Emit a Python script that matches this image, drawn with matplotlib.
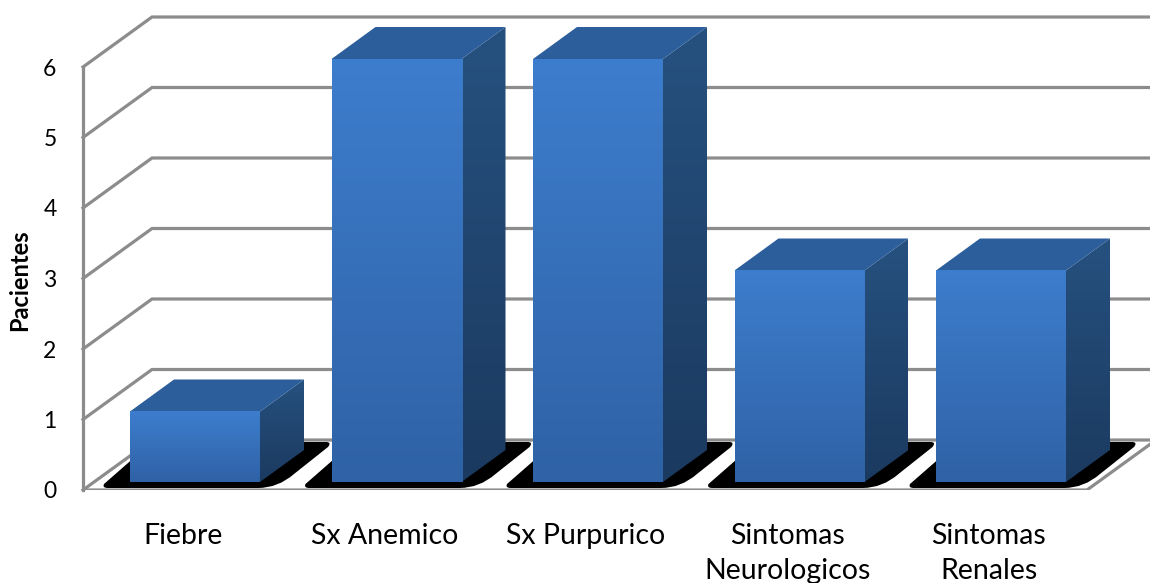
import numpy as np
import matplotlib
matplotlib.use('Agg')
import matplotlib.pyplot as plt
from matplotlib.colors import LinearSegmentedColormap
from matplotlib.patches import PathPatch, Polygon
from matplotlib.path import Path

categories = ['Fiebre', 'Sx Anemico', 'Sx Purpurico', 'Sintomas\nNeurologicos', 'Sintomas\nRenales']
values = [1, 6, 6, 3, 3]
y_ticks = [0, 1, 2, 3, 4, 5, 6]

W, H = 1150, 583
LEFT, FLOOR, TOP6 = 83, 490, 67  # wall position in pixels
UX = 201.5                       # pixels per category
UY = (FLOOR - TOP6) / 6          # pixels per unit
X0 = 195                         # centre of first bar

# depth offsets in data units
wall_dx, wall_dy = 69 / UX, 50 / UY
bar_dx, bar_dy = 44 / UX, 32 / UY
bar_lift = 8 / UY
bar_w = 130 / UX
label_shift = 12 / UX

GRID = '#8c8c8c'

plt.rcParams['font.family'] = ['Lato', 'DejaVu Sans']
fig = plt.figure(figsize=(W / 100, H / 100), dpi=100)
ax = fig.add_axes([LEFT / W, (H - FLOOR) / H, (W - LEFT) / W, FLOOR / H])
ax.set_facecolor('none')
xmin = (LEFT - X0) / UX
xmax = (W - X0) / UX
ymax = FLOOR / UY

front_cmap = LinearSegmentedColormap.from_list('front', ['#2f62a6', '#3d7dcd'])
side_cmap = LinearSegmentedColormap.from_list('side', ['#1b3a60', '#26517f'])

# back wall and side wall grid
for t in y_ticks:
    ax.plot([xmin, xmin + wall_dx, xmax], [t, t + wall_dy, t + wall_dy],
            color=GRID, lw=2.3, solid_joinstyle='miter', zorder=1, clip_on=False)
# floor edge on the right
right_x = (1087 - X0) / UX
ax.plot([xmin, right_x, right_x + wall_dx], [0, 0, wall_dy], color=GRID, lw=2.3, zorder=1)

x = np.arange(len(categories))
bars = ax.bar(x, values, width=bar_w, bottom=bar_lift, color='none', zorder=5)
grad = np.linspace(0, 1, 256).reshape(-1, 1)

for b, v in zip(bars, values):
    l, r = b.get_x(), b.get_x() + b.get_width()
    base, top = b.get_y(), b.get_y() + b.get_height()

    # black floor shadow with rounded corners
    sx = 1 / UX
    sy = 1 / UY
    verts = [
        (l - 22 * sx, base - 6 * sy), (l - 28 * sx, base - 6 * sy), (l - 26 * sx, base - 2 * sy),
        (l + 6 * sx, base + 26 * sy),
        (r + 44 * sx, base + 40 * sy),
        (r + 66 * sx, base + 40 * sy), (r + 72 * sx, base + 40 * sy), (r + 68 * sx, base + 35 * sy),
        (r + 34 * sx, base + 8 * sy), (r + 18 * sx, base - 6 * sy), (r - 2 * sx, base - 6 * sy),
        (l - 22 * sx, base - 6 * sy),
    ]
    codes = [Path.MOVETO, Path.CURVE3, Path.CURVE3, Path.LINETO, Path.LINETO, Path.LINETO,
             Path.CURVE3, Path.CURVE3, Path.LINETO, Path.CURVE3, Path.CURVE3, Path.CLOSEPOLY]
    ax.add_patch(PathPatch(Path(verts, codes), fc='black', ec='none', zorder=2))

    # front face
    ax.imshow(grad, extent=[l, r, base, top], origin='lower', aspect='auto',
              cmap=front_cmap, zorder=5)
    # side face
    side = Polygon([(r, base), (r + bar_dx, base + bar_dy), (r + bar_dx, top + bar_dy), (r, top)],
                   fc='none', ec='none', zorder=4)
    ax.add_patch(side)
    im = ax.imshow(grad, extent=[r, r + bar_dx, base, top + bar_dy], origin='lower', aspect='auto',
                   cmap=side_cmap, zorder=4)
    im.set_clip_path(side)
    # top face
    ax.add_patch(Polygon([(l, top), (l + bar_dx, top + bar_dy), (r + bar_dx, top + bar_dy), (r, top)],
                         fc='#2c5e9b', ec='none', zorder=4))

ax.set_xlim(xmin, xmax)
ax.set_ylim(0, ymax)
for s in ['top', 'right', 'bottom']:
    ax.spines[s].set_visible(False)
ax.spines['left'].set_color(GRID)
ax.spines['left'].set_linewidth(2.3)
ax.spines['left'].set_bounds(0, 6)

ax.set_yticks(y_ticks)
ax.tick_params(axis='y', length=0, pad=19, labelsize=16.5, labelcolor='black')
ax.set_xticks(x - label_shift)
ax.set_xticklabels(categories, fontsize=20.5, linespacing=1.42)
ax.tick_params(axis='x', length=0, pad=24)
ax.set_ylabel('Pacientes', fontsize=17, fontweight='bold')
ax.yaxis.set_label_coords(-52 / (W - LEFT), (FLOOR - 280) / FLOOR)

fig.savefig('out.png', dpi=100, facecolor='white')
